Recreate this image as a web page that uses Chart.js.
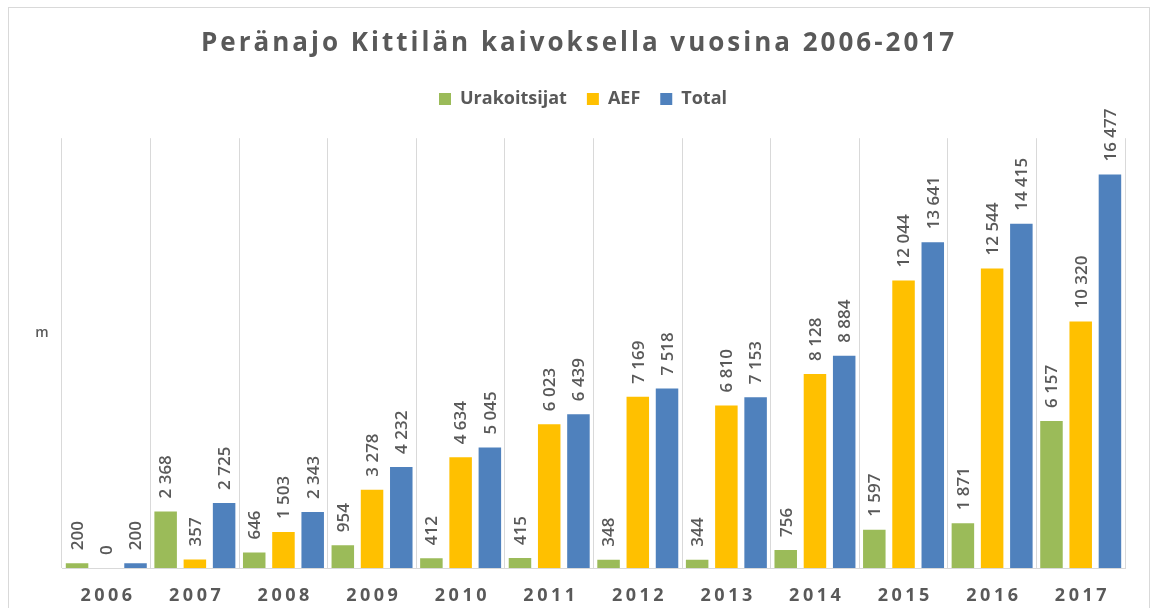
<!DOCTYPE html>
<html>
<head>
<meta charset="utf-8">
<title>Peränajo Kittilän kaivoksella</title>
<script src="https://cdn.jsdelivr.net/npm/chart.js@4"></script>
<style>
  html, body { margin: 0; padding: 0; background: #fff; }
  #wrap { position: relative; width: 1152px; height: 608px; overflow: hidden; }
  #frame { position: absolute; left: 8px; top: 7px; width: 1140px; height: 640px; border: 1px solid #d9d9d9; }
  #chart { position: absolute; left: 0; top: 0; }
</style>
</head>
<body>
<div id="wrap">
  <div id="frame"></div>
  <canvas id="chart" width="1152" height="608"></canvas>
</div>
<script>
// data
const years = ["2006", "2007", "2008", "2009", "2010", "2011", "2012", "2013", "2014", "2015", "2016", "2017"];
const urakoitsijat = [200, 2368, 646, 954, 412, 415, 348, 344, 756, 1597, 1871, 6157];
const aef = [0, 357, 1503, 3278, 4634, 6023, 7169, 6810, 8128, 12044, 12544, 10320];
const total = [200, 2725, 2343, 4232, 5045, 6439, 7518, 7153, 8884, 13641, 14415, 16477];

const titleText = "Peränajo Kittilän kaivoksella vuosina 2006-2017";
const gray = "#595959";
const fontName = "'Open Sans', 'DejaVu Sans', sans-serif";

// numero com espaço como separador de milhar
function fmt(v) {
    return String(v).replace(/\B(?=(\d{3})+(?!\d))/g, " ");
}

// titulo, eixo x, "m" e rotulos das barras
const extras = {
    id: "extras",
    afterDatasetsDraw(chart) {
        const ctx = chart.ctx;
        ctx.save();
        ctx.fillStyle = gray;
        ctx.font = "600 17px " + fontName;
        ctx.textAlign = "left";
        ctx.textBaseline = "middle";
        chart.data.datasets.forEach((ds, di) => {
            const meta = chart.getDatasetMeta(di);
            meta.data.forEach((bar, i) => {
                ctx.save();
                ctx.translate(bar.x, bar.y - 13);
                ctx.rotate(-Math.PI / 2);
                ctx.fillText(fmt(ds.data[i]), 0, 1);
                ctx.restore();
            });
        });
        ctx.restore();
    },
    afterDraw(chart) {
        const ctx = chart.ctx;
        const area = chart.chartArea;
        ctx.save();
        ctx.fillStyle = gray;
        ctx.textAlign = "center";
        ctx.textBaseline = "middle";

        ctx.font = "bold 26px " + fontName;
        ctx.letterSpacing = "3px";
        ctx.fillText(titleText, 579, 44);

        ctx.font = "bold 18px " + fontName;
        ctx.letterSpacing = "3.5px";
        const xs = chart.scales.x;
        years.forEach((y, i) => {
            ctx.fillText(y, xs.getPixelForValue(i) + 1.75, area.bottom + 28);
        });

        ctx.letterSpacing = "0px";
        ctx.font = "600 14px " + fontName;
        ctx.fillText("m", 42, 333);
        ctx.restore();
    }
};

new Chart(document.getElementById("chart"), {
    type: "bar",
    data: {
        labels: years,
        datasets: [
            { label: "Urakoitsijat", data: urakoitsijat, backgroundColor: "#9BBB59" },
            { label: "AEF", data: aef, backgroundColor: "#FFC000" },
            { label: "Total", data: total, backgroundColor: "#4F81BD" },
        ],
    },
    options: {
        responsive: false,
        animation: false,
        layout: {
            padding: { left: 41, right: 27, top: 70, bottom: 40 },
        },
        datasets: {
            bar: { categoryPercentage: 0.99, barPercentage: 0.77 },
        },
        plugins: {
            legend: {
                position: "top",
                labels: {
                    color: gray,
                    font: { family: fontName, size: 18, weight: "bold" },
                    boxWidth: 12,
                    boxHeight: 12,
                    padding: 20,
                },
            },
            // subtitulo vazio so para dar espaço entre a legenda e o grafico
            subtitle: {
                display: true,
                text: "",
                weight: 500,
                font: { size: 1 },
                padding: { top: 19, bottom: 0 },
            },
            tooltip: { enabled: false },
        },
        scales: {
            x: {
                grid: { color: "#d9d9d9", offset: true, drawTicks: false },
                border: { color: "#d9d9d9", width: 1 },
                ticks: { display: false },
            },
            y: {
                min: 0,
                max: 18000,
                grid: { display: false },
                border: { display: false },
                ticks: { display: false },
                // eixo y invisivel, so ocupa a margem da esquerda
                afterFit: (scale) => { scale.width = 21; },
            },
        },
    },
    plugins: [extras],
});
</script>
</body>
</html>
